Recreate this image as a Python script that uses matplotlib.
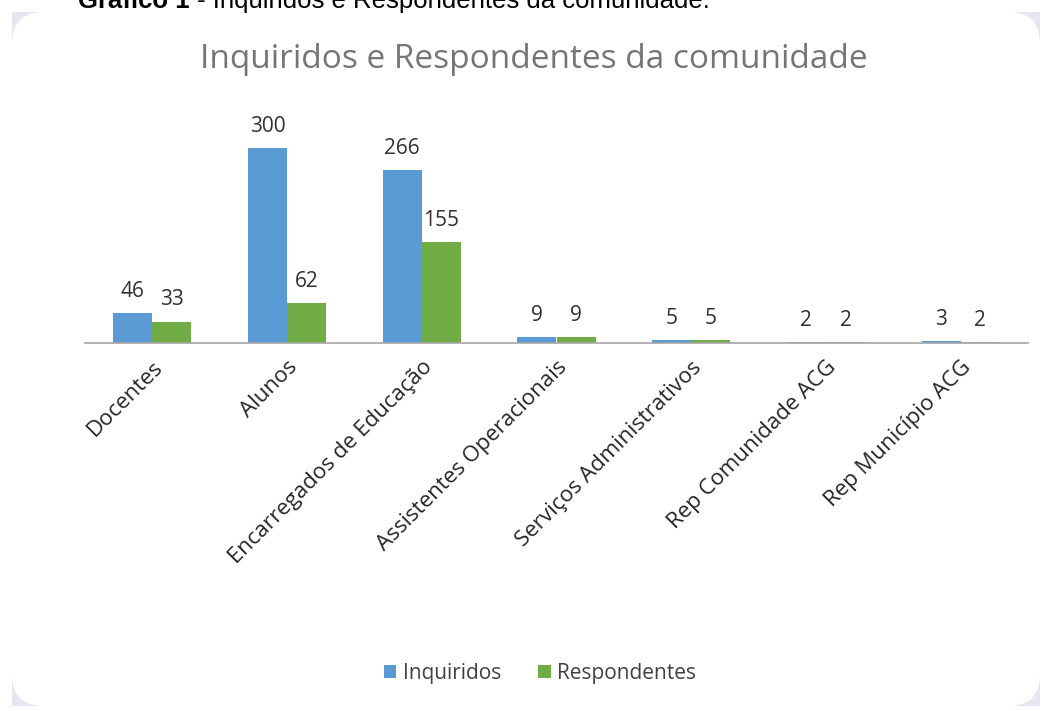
import matplotlib
matplotlib.use("Agg")
import matplotlib.pyplot as plt
from matplotlib.patches import FancyBboxPatch, Rectangle
import numpy as np

categories = ["Docentes", "Alunos", "Encarregados de Educação", "Assistentes Operacionais",
              "Serviços Administrativos", "Rep Comunidade ACG", "Rep Município ACG"]
inquiridos = [46, 300, 266, 9, 5, 2, 3]
respondentes = [33, 62, 155, 9, 5, 2, 2]
series_names = ["Inquiridos", "Respondentes"]

W, H = 1046, 711
fig = plt.figure(figsize=(W / 100, H / 100), dpi=100)
fig.patch.set_facecolor("white")

def fx(px):
    return px / W

def fy(py):
    return 1 - py / H

# background axes in pixel coordinates for the card
bg = fig.add_axes([0, 0, 1, 1], zorder=-5)
bg.set_xlim(0, W)
bg.set_ylim(H, 0)
bg.axis("off")
bg.add_patch(Rectangle((12, 12), 1028, 694, facecolor="#e8e5f0", edgecolor="none"))
bg.add_patch(FancyBboxPatch((12, 12), 1028, 694, boxstyle="round,pad=0,rounding_size=32",
                            facecolor="white", edgecolor="none"))

# partial caption at top (cut off)
t1 = bg.text(78, 8, "Gráfico 1", fontsize=18.5, fontweight="bold", family="Liberation Sans",
             va="baseline", ha="left", color="black")
bg.annotate(" - Inquiridos e Respondentes da comunidade.", xy=(1, 0), xycoords=t1,
            fontsize=18.5, family="Liberation Sans", va="bottom", ha="left", color="black")

left, right = 85, 1028
base, top = 343, 100
ax = fig.add_axes([fx(left), fy(base), fx(right) - fx(left), fy(top) - fy(base)], zorder=2)
ax.set_facecolor("none")
scale = 0.65
ax.set_ylim(0, (base - top) / scale)
ax.set_xlim(-0.5, len(categories) - 0.5)

x = np.arange(len(categories))
w = 0.29
blue = "#5b9bd5"
green = "#70ad47"
b1 = ax.bar(x - w / 2, inquiridos, w, color=blue, label=series_names[0], zorder=2)
b2 = ax.bar(x + w / 2, respondentes, w, color=green, label=series_names[1], zorder=2)

font = "Open Sans"
for rects, vals in ((b1, inquiridos), (b2, respondentes)):
    for r, v in zip(rects, vals):
        ax.annotate(str(v), (r.get_x() + r.get_width() / 2, v), xytext=(0, 8),
                    textcoords="offset points", ha="center", va="bottom",
                    fontsize=15, color="#303030", family=font)

for s in ["top", "right", "left"]:
    ax.spines[s].set_visible(False)
ax.spines["bottom"].set_color("#a6a6a6")
ax.spines["bottom"].set_linewidth(1.2)
ax.set_yticks([])
ax.set_xticks(x)
ax.set_xticklabels(categories, rotation=45, ha="right", rotation_mode="anchor",
                   fontsize=16, color="#262626", family=font)
ax.tick_params(axis="x", length=0, pad=10)

fig.text(fx(534), fy(60), "Inquiridos e Respondentes da comunidade", ha="center", va="center",
         fontsize=24, color="#757575", family=font)

leg = fig.legend(handles=[b1, b2], labels=series_names, loc="center", bbox_to_anchor=(fx(540), fy(673)),
                 ncol=2, frameon=False, handlelength=0.6, handleheight=0.6,
                 handletextpad=0.3, columnspacing=1.8, prop={"family": font, "size": 15})
for t in leg.get_texts():
    t.set_color("#404040")

fig.savefig("out.png", dpi=100, facecolor="white")
